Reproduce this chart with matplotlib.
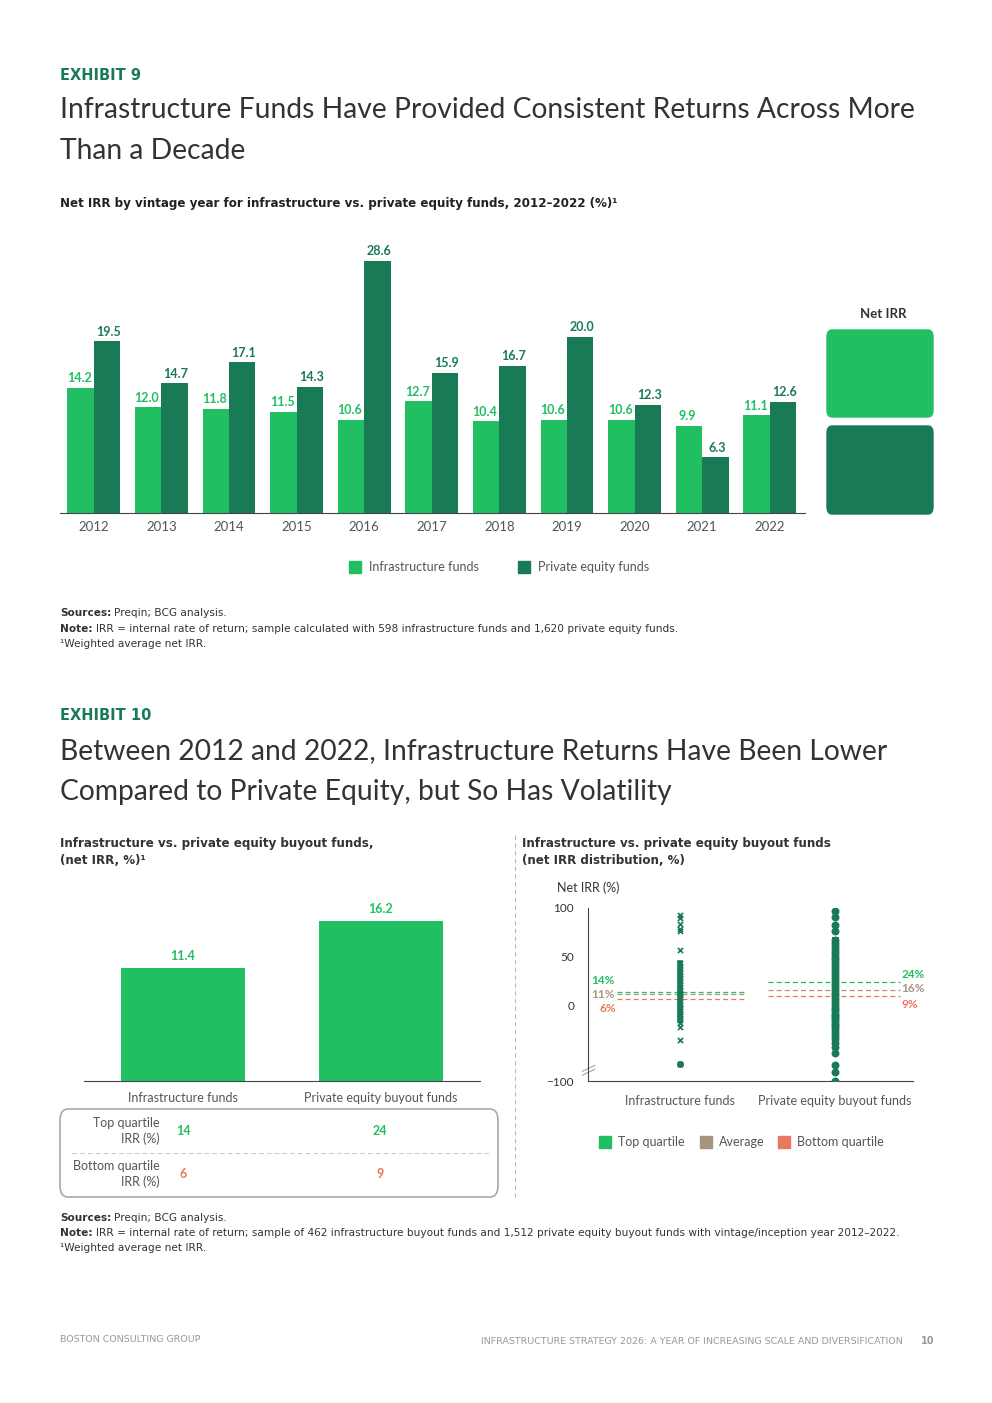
import numpy as np
import matplotlib.pyplot as plt
from matplotlib.patches import FancyBboxPatch, Rectangle
from matplotlib.lines import Line2D

plt.rcParams['font.family'] = ['Lato', 'DejaVu Sans']

LIGHT = "#21BF61"
DARK = "#197A56"
TAN = "#A8957D"
SALMON = "#E8785F"
GREY = "#555555"
WIDE = ['DejaVu Sans']

# ── data: exhibit 9 ─────────────────────────────
years = ["2012", "2013", "2014", "2015", "2016", "2017", "2018", "2019", "2020", "2021", "2022"]
infra_irr = [14.2, 12.0, 11.8, 11.5, 10.6, 12.7, 10.4, 10.6, 10.6, 9.9, 11.1]
pe_irr = [19.5, 14.7, 17.1, 14.3, 28.6, 15.9, 16.7, 20.0, 12.3, 6.3, 12.6]

# ── data: exhibit 10 ────────────────────────────
fund_types = ["Infrastructure funds", "Private equity buyout funds"]
avg_irr = [11.4, 16.2]
top_q = [14, 24]
bottom_q = [6, 9]
mid_q = [11, 16]
infra_points = [93, 90, 84, 78, 76, 57, 43, 40, 37, 34, 31, 28, 25, 22, 19, 16, 13, 10,
                7, 4, 1, -2, -5, -8, -11, -14, -17, -20, -24, -29, -46, -78]
pe_points = [97, 91, 83, 76, 67, 64, 61, 58, 55, 52, 49, 46, 43, 40, 37, 34, 31, 28, 25,
             22, 19, 16, 13, 10, 7, 4, 1, -2, -5, -8, -11, -14, -17, -20, -23, -26, -29,
             -33, -37, -41, -45, -50, -55, -63, -79, -88, -100]

W, H = 992, 1403
fig = plt.figure(figsize=(W / 100, H / 100), dpi=100)


def box(x0, y0, x1, y1):
    return [x0 / W, 1 - y1 / H, (x1 - x0) / W, (y1 - y0) / H]


def txt(x, y, s, **kw):
    kw.setdefault("va", "center")
    return fig.text(x / W, 1 - y / H, s, **kw)


def note(x, y, head, rest, size=7.6):
    t = txt(x, y, head, fontsize=size, fontweight="bold", color="#333333", family=WIDE)
    fig.canvas.draw()
    bb = t.get_window_extent()
    txt(bb.x1 + 3, y, rest, fontsize=size, color="#333333", family=WIDE)


# ── headings ───────────────────────────────────
txt(60, 75, "EXHIBIT 9", fontsize=10.5, color=DARK, fontweight="bold", family=WIDE)
txt(60, 110, "Infrastructure Funds Have Provided Consistent Returns Across More", fontsize=20.3, color="#333333")
txt(60, 151, "Than a Decade", fontsize=20.3, color="#333333")
txt(60, 203, "Net IRR by vintage year for infrastructure vs. private equity funds, 2012–2022 (%)¹",
    fontsize=8.6, fontweight="bold", color="#222222", family=WIDE)

# ── exhibit 9 chart ────────────────────────────
ax = fig.add_axes(box(60, 231, 805, 513))
x = np.arange(len(years))
bw = 0.39
ax.bar(x - bw / 2, infra_irr, bw, color=LIGHT)
ax.bar(x + bw / 2, pe_irr, bw, color=DARK)
for i in range(len(years)):
    ax.text(x[i] - bw / 2 - 0.02, infra_irr[i] + 0.4, f"{infra_irr[i]:.1f}", ha="center", va="bottom",
            color=LIGHT, fontsize=9, fontweight="bold")
    ax.text(x[i] + bw / 2 + 0.02, pe_irr[i] + 0.4, f"{pe_irr[i]:.1f}", ha="center", va="bottom",
            color=DARK, fontsize=9, fontweight="bold")
ax.set_xlim(-0.5, 10.52)
ax.set_ylim(0, 32)
ax.set_xticks(x)
ax.set_xticklabels(years, color=GREY, fontsize=9.5)
ax.tick_params(axis="x", length=0, pad=6)
ax.set_yticks([])
for s in ["top", "right", "left"]:
    ax.spines[s].set_visible(False)
ax.spines["bottom"].set_color("#444444")

# Net IRR side boxes
txt(883, 314, "Net IRR", fontsize=9.5, fontweight="bold", color="#333333", ha="center")
for (y0, y1, c) in [(330, 417, LIGHT), (426, 514, DARK)]:
    fig.patches.append(FancyBboxPatch((827 / W, 1 - y1 / H), 106 / W, (y1 - y0) / H,
                                      boxstyle="round,pad=0,rounding_size=0.005",
                                      transform=fig.transFigure, color=c, clip_on=False))

# legend
for (lx, label, c) in [(349, "Infrastructure funds", LIGHT), (518, "Private equity funds", DARK)]:
    fig.patches.append(Rectangle((lx / W, 1 - 573 / H), 12 / W, 12 / H, transform=fig.transFigure, color=c))
    txt(lx + 20, 567, label, fontsize=9, color=GREY)

note(60, 613, "Sources:", "Preqin; BCG analysis.")
note(60, 629, "Note:", "IRR = internal rate of return; sample calculated with 598 infrastructure funds and 1,620 private equity funds.")
txt(60, 644, "¹Weighted average net IRR.", fontsize=7.6, color="#333333", family=WIDE)

# ── exhibit 10 headings ────────────────────────
txt(60, 716, "EXHIBIT 10", fontsize=10.5, color=DARK, fontweight="bold", family=WIDE)
txt(60, 751, "Between 2012 and 2022, Infrastructure Returns Have Been Lower", fontsize=20.3, color="#333333")
txt(60, 792, "Compared to Private Equity, but So Has Volatility", fontsize=20.3, color="#333333")
txt(60, 843, "Infrastructure vs. private equity buyout funds,", fontsize=8.6, fontweight="bold", color="#333333", family=WIDE)
txt(60, 861, "(net IRR, %)¹", fontsize=8.6, fontweight="bold", color="#333333", family=WIDE)
txt(522, 843, "Infrastructure vs. private equity buyout funds", fontsize=8.6, fontweight="bold", color="#333333", family=WIDE)
txt(522, 861, "(net IRR distribution, %)", fontsize=8.6, fontweight="bold", color="#333333", family=WIDE)

fig.add_artist(Line2D([515 / W, 515 / W], [1 - 835 / H, 1 - 1197 / H], transform=fig.transFigure,
                      color="#BBBBBB", lw=0.8, ls=(0, (4, 3))))

# left bar chart
ax2 = fig.add_axes(box(84, 890, 480, 1081))
xb = np.arange(2)
ax2.bar(xb, avg_irr, 0.63, color=LIGHT)
for i in xb:
    ax2.text(xb[i], avg_irr[i] + 0.6, f"{avg_irr[i]:.1f}", ha="center", va="bottom", color=LIGHT,
             fontsize=9, fontweight="bold")
ax2.set_xlim(-0.5, 1.5)
ax2.set_ylim(0, 19.3)
ax2.set_xticks(xb)
ax2.set_xticklabels(fund_types, color=GREY, fontsize=9)
ax2.tick_params(axis="x", length=0, pad=8)
ax2.set_yticks([])
for s in ["top", "right", "left"]:
    ax2.spines[s].set_visible(False)
ax2.spines["bottom"].set_color("#444444")

# quartile table
fig.patches.append(FancyBboxPatch((60 / W, 1 - 1197 / H), 438 / W, 88 / H,
                                  boxstyle="round,pad=0,rounding_size=0.008", transform=fig.transFigure,
                                  fc="white", ec="#AAAAAA", lw=1.2))
fig.add_artist(Line2D([72 / W, 490 / W], [1 - 1153 / H] * 2, transform=fig.transFigure,
                      color="#CCCCCC", lw=0.8, ls=(0, (4, 3))))
txt(160, 1123, "Top quartile", fontsize=9, color=GREY, ha="right")
txt(160, 1139, "IRR (%)", fontsize=9, color=GREY, ha="right")
txt(160, 1166, "Bottom quartile", fontsize=9, color=GREY, ha="right")
txt(160, 1182, "IRR (%)", fontsize=9, color=GREY, ha="right")
for xc, t, b in zip([183, 380], top_q, bottom_q):
    txt(xc, 1131, str(t), fontsize=9, color=LIGHT, fontweight="bold", ha="center")
    txt(xc, 1174, str(b), fontsize=9, color=SALMON, fontweight="bold", ha="center")

# right distribution chart (negative side compressed, broken axis)
NEG = 0.78


def sy(v):
    v = np.asarray(v, dtype=float)
    return np.where(v < 0, v * NEG, v)


ax3 = fig.add_axes(box(588, 908, 913, 1081))
ax3.set_xlim(-0.594, 1.503)
ax3.set_ylim(-100 * NEG, 100)
ax3.scatter(np.zeros(len(infra_points)), sy(infra_points), marker="x", s=14, color=DARK, lw=1.2, zorder=3)
ax3.scatter(np.zeros(1), sy([infra_points[-1]]), marker="o", s=16, color=DARK, zorder=3)
ax3.scatter(np.ones(len(pe_points)), sy(pe_points), marker="o", s=22, color=DARK, zorder=3)
ax3.plot([1, 1], sy([pe_points[4], pe_points[-16]]), color=DARK, lw=5, zorder=3)
ax3.plot([0, 0], sy([infra_points[6], infra_points[-5]]), color=DARK, lw=4, zorder=3)
segs = [(-0.406, 0.432), (0.568, 1.419)]
for k, (x0, x1) in enumerate(segs):
    for v, c in [(top_q[k], LIGHT), (mid_q[k], TAN), (bottom_q[k], SALMON)]:
        ax3.plot([x0, x1], [v, v], color=c, lw=0.9, ls=(0, (4, 2.5)), zorder=2)
ax3.text(-0.575, 25, f"{top_q[0]}%", color=LIGHT, fontsize=8.5, fontweight="bold", ha="left", va="center")
ax3.text(-0.575, 11, f"{mid_q[0]}%", color=TAN, fontsize=8.5, fontweight="bold", ha="left", va="center")
ax3.text(-0.52, -3, f"{bottom_q[0]}%", color=SALMON, fontsize=8.5, fontweight="bold", ha="left", va="center")
ax3.text(1.43, 32, f"{top_q[1]}%", color=LIGHT, fontsize=8.5, fontweight="bold", ha="left", va="center")
ax3.text(1.43, 17, f"{mid_q[1]}%", color=TAN, fontsize=8.5, fontweight="bold", ha="left", va="center")
ax3.text(1.43, 1, f"{bottom_q[1]}%", color=SALMON, fontsize=8.5, fontweight="bold", ha="left", va="center")
ax3.set_yticks(sy([-100, 0, 50, 100]))
ax3.set_yticklabels(["−100", "0", "50", "100"], color="#333333", fontsize=8.5)
ax3.tick_params(axis="y", length=0, pad=10)
ax3.set_xticks([0, 1])
ax3.set_xticklabels(fund_types, color=GREY, fontsize=9)
ax3.tick_params(axis="x", length=0, pad=10)
for s in ["top", "right"]:
    ax3.spines[s].set_visible(False)
ax3.spines["left"].set_color("#444444")
ax3.spines["bottom"].set_color("#444444")
# axis break marks
for dy in (0, 4):
    ax3.plot([-0.63, -0.55], [-72 + dy, -66 + dy], color="#999999", lw=0.7, clip_on=False)
txt(557, 888, "Net IRR (%)", fontsize=9, color="#333333")

for (lx, label, c) in [(599, "Top quartile", LIGHT), (700, "Average", TAN), (778, "Bottom quartile", SALMON)]:
    fig.patches.append(Rectangle((lx / W, 1 - 1148 / H), 12 / W, 12 / H, transform=fig.transFigure, color=c))
    txt(lx + 19, 1142, label, fontsize=9, color=GREY)

note(60, 1218, "Sources:", "Preqin; BCG analysis.")
note(60, 1233, "Note:", "IRR = internal rate of return; sample of 462 infrastructure buyout funds and 1,512 private equity buyout funds with vintage/inception year 2012–2022.")
txt(60, 1248, "¹Weighted average net IRR.", fontsize=7.6, color="#333333", family=WIDE)

txt(60, 1339, "BOSTON CONSULTING GROUP", fontsize=6.8, color="#999999", family=WIDE)
txt(903, 1341, "INFRASTRUCTURE STRATEGY 2026: A YEAR OF INCREASING SCALE AND DIVERSIFICATION",
    fontsize=6.8, color="#999999", ha="right", family=WIDE)
txt(934, 1341, "10", fontsize=7, color="#999999", ha="right", fontweight="bold", family=WIDE)

fig.savefig("out.png", dpi=100)
